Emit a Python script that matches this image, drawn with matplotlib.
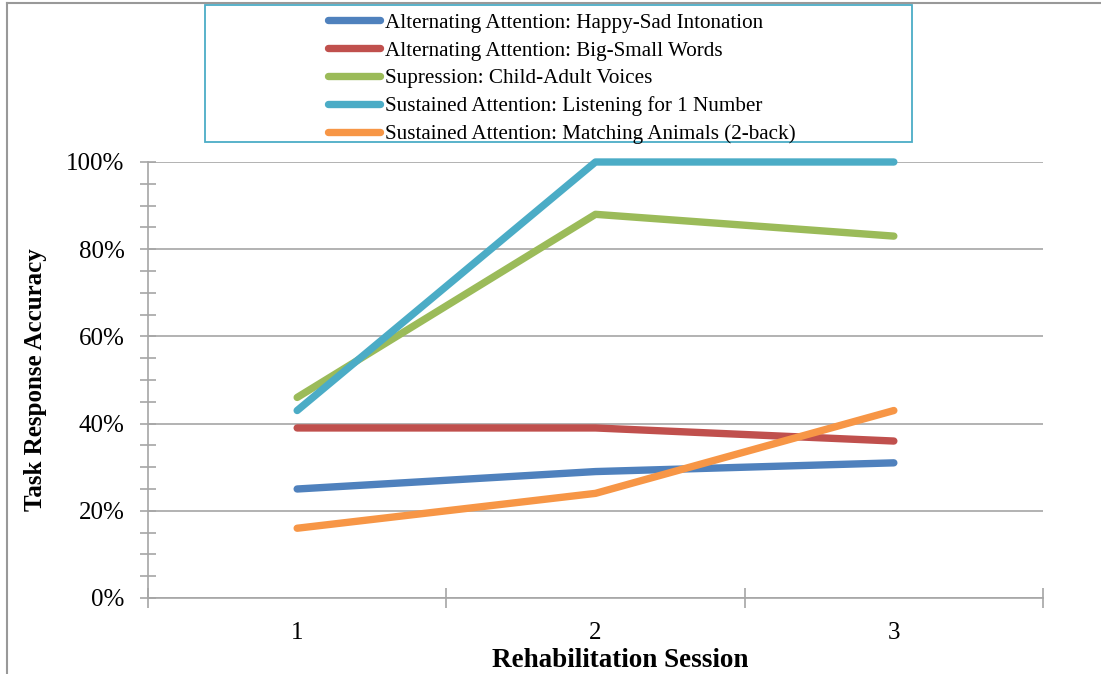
import numpy as np
import matplotlib.pyplot as plt
from matplotlib.patches import Rectangle
from matplotlib.lines import Line2D
from matplotlib.ticker import MultipleLocator, FixedLocator, PercentFormatter

plt.rcParams['font.family'] = ['Liberation Serif', 'DejaVu Serif']

# Datos
sessions = [1, 2, 3]
labels = ['Alternating Attention: Happy-Sad Intonation',
          'Alternating Attention: Big-Small Words',
          'Supression: Child-Adult Voices',
          'Sustained Attention: Listening for 1 Number',
          'Sustained Attention: Matching Animals (2-back)']
happy_sad = [0.25, 0.29, 0.31]
big_small = [0.39, 0.39, 0.36]
child_adult = [0.46, 0.88, 0.83]
listening = [0.43, 1.00, 1.00]
matching = [0.16, 0.24, 0.43]
series = [happy_sad, big_small, child_adult, listening, matching]
colors = ['#4F81BD', '#C0504D', '#9BBB59', '#4BACC6', '#F79646']

W, H = 1101, 674
fig = plt.figure(figsize=(W / 100, H / 100), dpi=100)
ax = fig.add_axes([148 / W, 1 - 598 / H, (1043 - 148) / W, (598 - 162) / H])

grey = '#A6A6A6'
for vals, c, lab in zip(series, colors, labels):
    ax.plot(sessions, vals, color=c, lw=5.3, label=lab, solid_capstyle='round',
            clip_on=False, zorder=3)

ax.set_xlim(0.5, 3.5)
ax.set_ylim(0, 1)
ax.xaxis.set_major_locator(FixedLocator([0.5, 1.5, 2.5, 3.5]))
ax.xaxis.set_minor_locator(FixedLocator(sessions))
ax.xaxis.set_major_formatter(plt.NullFormatter())
ax.set_xticklabels(['1', '2', '3'], minor=True)
ax.tick_params(axis='x', which='minor', length=0, pad=17, labelsize=18)
ax.tick_params(axis='x', which='major', direction='inout', length=14, width=1.2, color=grey)

ax.yaxis.set_major_locator(MultipleLocator(0.2))
ax.yaxis.set_minor_locator(MultipleLocator(0.05))
ax.yaxis.set_major_formatter(PercentFormatter(1.0, decimals=0))
ax.tick_params(axis='y', which='both', direction='inout', length=11, width=1.2,
               color=grey, labelsize=18, pad=11.5)
ax.grid(axis='y', which='major', color=grey, lw=1.2)

for s in ['top', 'right']:
    ax.spines[s].set_visible(False)
for s in ['left', 'bottom']:
    ax.spines[s].set_color(grey)
    ax.spines[s].set_linewidth(1.2)

ax.set_ylabel('Task Response Accuracy', fontsize=18, fontweight='bold', labelpad=14)
ax.set_xlabel('Rehabilitation Session', fontsize=19.5, fontweight='bold')
ax.xaxis.set_label_coords((620 - 148) / 895, -0.115)

# Recuadro de la leyenda
fig.patches.append(Rectangle((205 / W, 1 - 142 / H), (912 - 205) / W, (142 - 5) / H,
                             transform=fig.transFigure, fill=False,
                             edgecolor='#4BACC6', lw=1.3, zorder=5))
handles = [Line2D([], [], color=c, lw=5.3, solid_capstyle='round') for c in colors]
fig.legend(handles, labels, loc='upper left', bbox_to_anchor=(327.5 / W, 1 - 13 / H),
           frameon=False, fontsize=15.2, handlelength=2.5, handletextpad=0.22,
           borderpad=0, borderaxespad=0, labelspacing=0.38)

# Bordes exteriores
fig.add_artist(Line2D([7 / W, 7 / W], [0, 1 - 3 / H], color='#999999', lw=1.5))
fig.add_artist(Line2D([7 / W, 1], [1 - 3 / H, 1 - 3 / H], color='#999999', lw=1.5))

fig.savefig('out.png', dpi=100)
